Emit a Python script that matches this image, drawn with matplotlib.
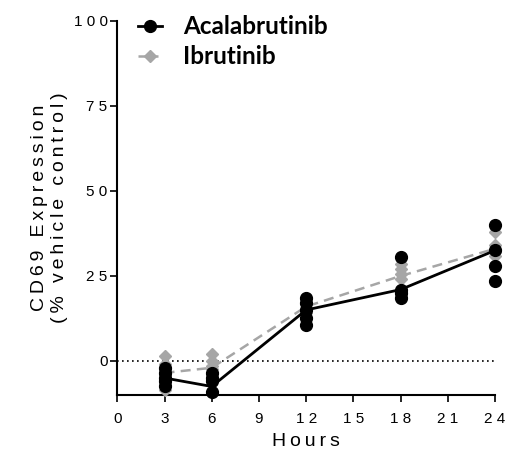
import matplotlib
matplotlib.use("Agg")
import matplotlib.pyplot as plt
from matplotlib.lines import Line2D

# values
hours = [3, 6, 12, 18, 24]
acala_pts = [
    [-2, -3.5, -5, -6, -7.5],
    [-3.5, -5, -6, -9],
    [18.5, 17, 15, 12.5, 10.5],
    [30.5, 21, 20, 18.5],
    [40, 32.5, 28, 23.5],
]
acala_mean = [-5, -7.5, 15, 21, 32.5]
ibru_pts = [
    [1.5, -1, -4, -6, -8.5],
    [2, 0, -1.5, -2.5],
    [17, 15.5, 14],
    [28.5, 27, 25.5, 24],
    [38, 34, 32, 31],
]
ibru_mean = [-3.5, -2, 16, 25, 33]
x_ticks = [0, 3, 6, 9, 12, 15, 18, 21, 24]
y_ticks = [0, 25, 50, 75, 100]

plt.rcParams['font.family'] = ['Liberation Sans', 'DejaVu Sans']
gray = '#a6a6a6'


def spaced(s, gap='\u2009'):
    # the original uses wide letter spacing
    return gap.join(s)


fig = plt.figure(figsize=(5.16, 4.54), dpi=100)
ax = fig.add_axes([0.2273, 0.130, 0.732, 0.8238])

# baseline
ax.axhline(0, color='black', lw=1.2, ls=(0, (1, 2)), zorder=1)

# ibrutinib (grey, dashed) behind acalabrutinib
ax.plot(hours, ibru_mean, color=gray, lw=1.8, ls=(0, (4, 2.5)), zorder=2)
for h, pts in zip(hours, ibru_pts):
    ax.plot([h] * len(pts), pts, ls='none', marker='D', ms=6.5,
            color=gray, mec=gray, zorder=3, clip_on=False)

ax.plot(hours, acala_mean, color='black', lw=2.0, zorder=4)
for h, pts in zip(hours, acala_pts):
    ax.plot([h] * len(pts), pts, ls='none', marker='o', ms=8.5,
            color='black', zorder=5, clip_on=False)

ax.set_xlim(0, 24)
ax.set_ylim(-10, 100)
ax.set_xticks(x_ticks)
ax.set_xticklabels([spaced(str(t), '\u2009\u200a') for t in x_ticks])
ax.set_yticks(y_ticks)
ax.set_yticklabels([spaced(str(t), '\u2009\u200a') for t in y_ticks])
ax.spines['top'].set_visible(False)
ax.spines['right'].set_visible(False)
for s in ['left', 'bottom']:
    ax.spines[s].set_linewidth(1.5)
ax.tick_params(width=1.2, length=5, labelsize=11, colors='black')
ax.tick_params(axis='y', pad=2)
ax.tick_params(axis='x', pad=7)

ax.set_xlabel(spaced('Hours'), fontsize=14, labelpad=5)
ax.set_ylabel(spaced('CD69 Expression') + '\n' + spaced('(% vehicle control)'),
              fontsize=14, labelpad=4, linespacing=1.25)

handles = [
    Line2D([], [], color='black', lw=2.0, marker='o', ms=8.5),
    Line2D([], [], color=gray, lw=1.8, ls=(0, (3, 2)), marker='D', ms=6.5),
]
leg = ax.legend(handles, ['Acalabrutinib', 'Ibrutinib'], loc='upper left',
                bbox_to_anchor=(0.225, 1.015), bbox_transform=fig.transFigure,
                frameon=False, handlelength=1.0, handletextpad=0.85,
                labelspacing=0.3, prop={'family': 'Lato', 'weight': 'bold', 'size': 17.5})

fig.savefig('out.png', dpi=100)
